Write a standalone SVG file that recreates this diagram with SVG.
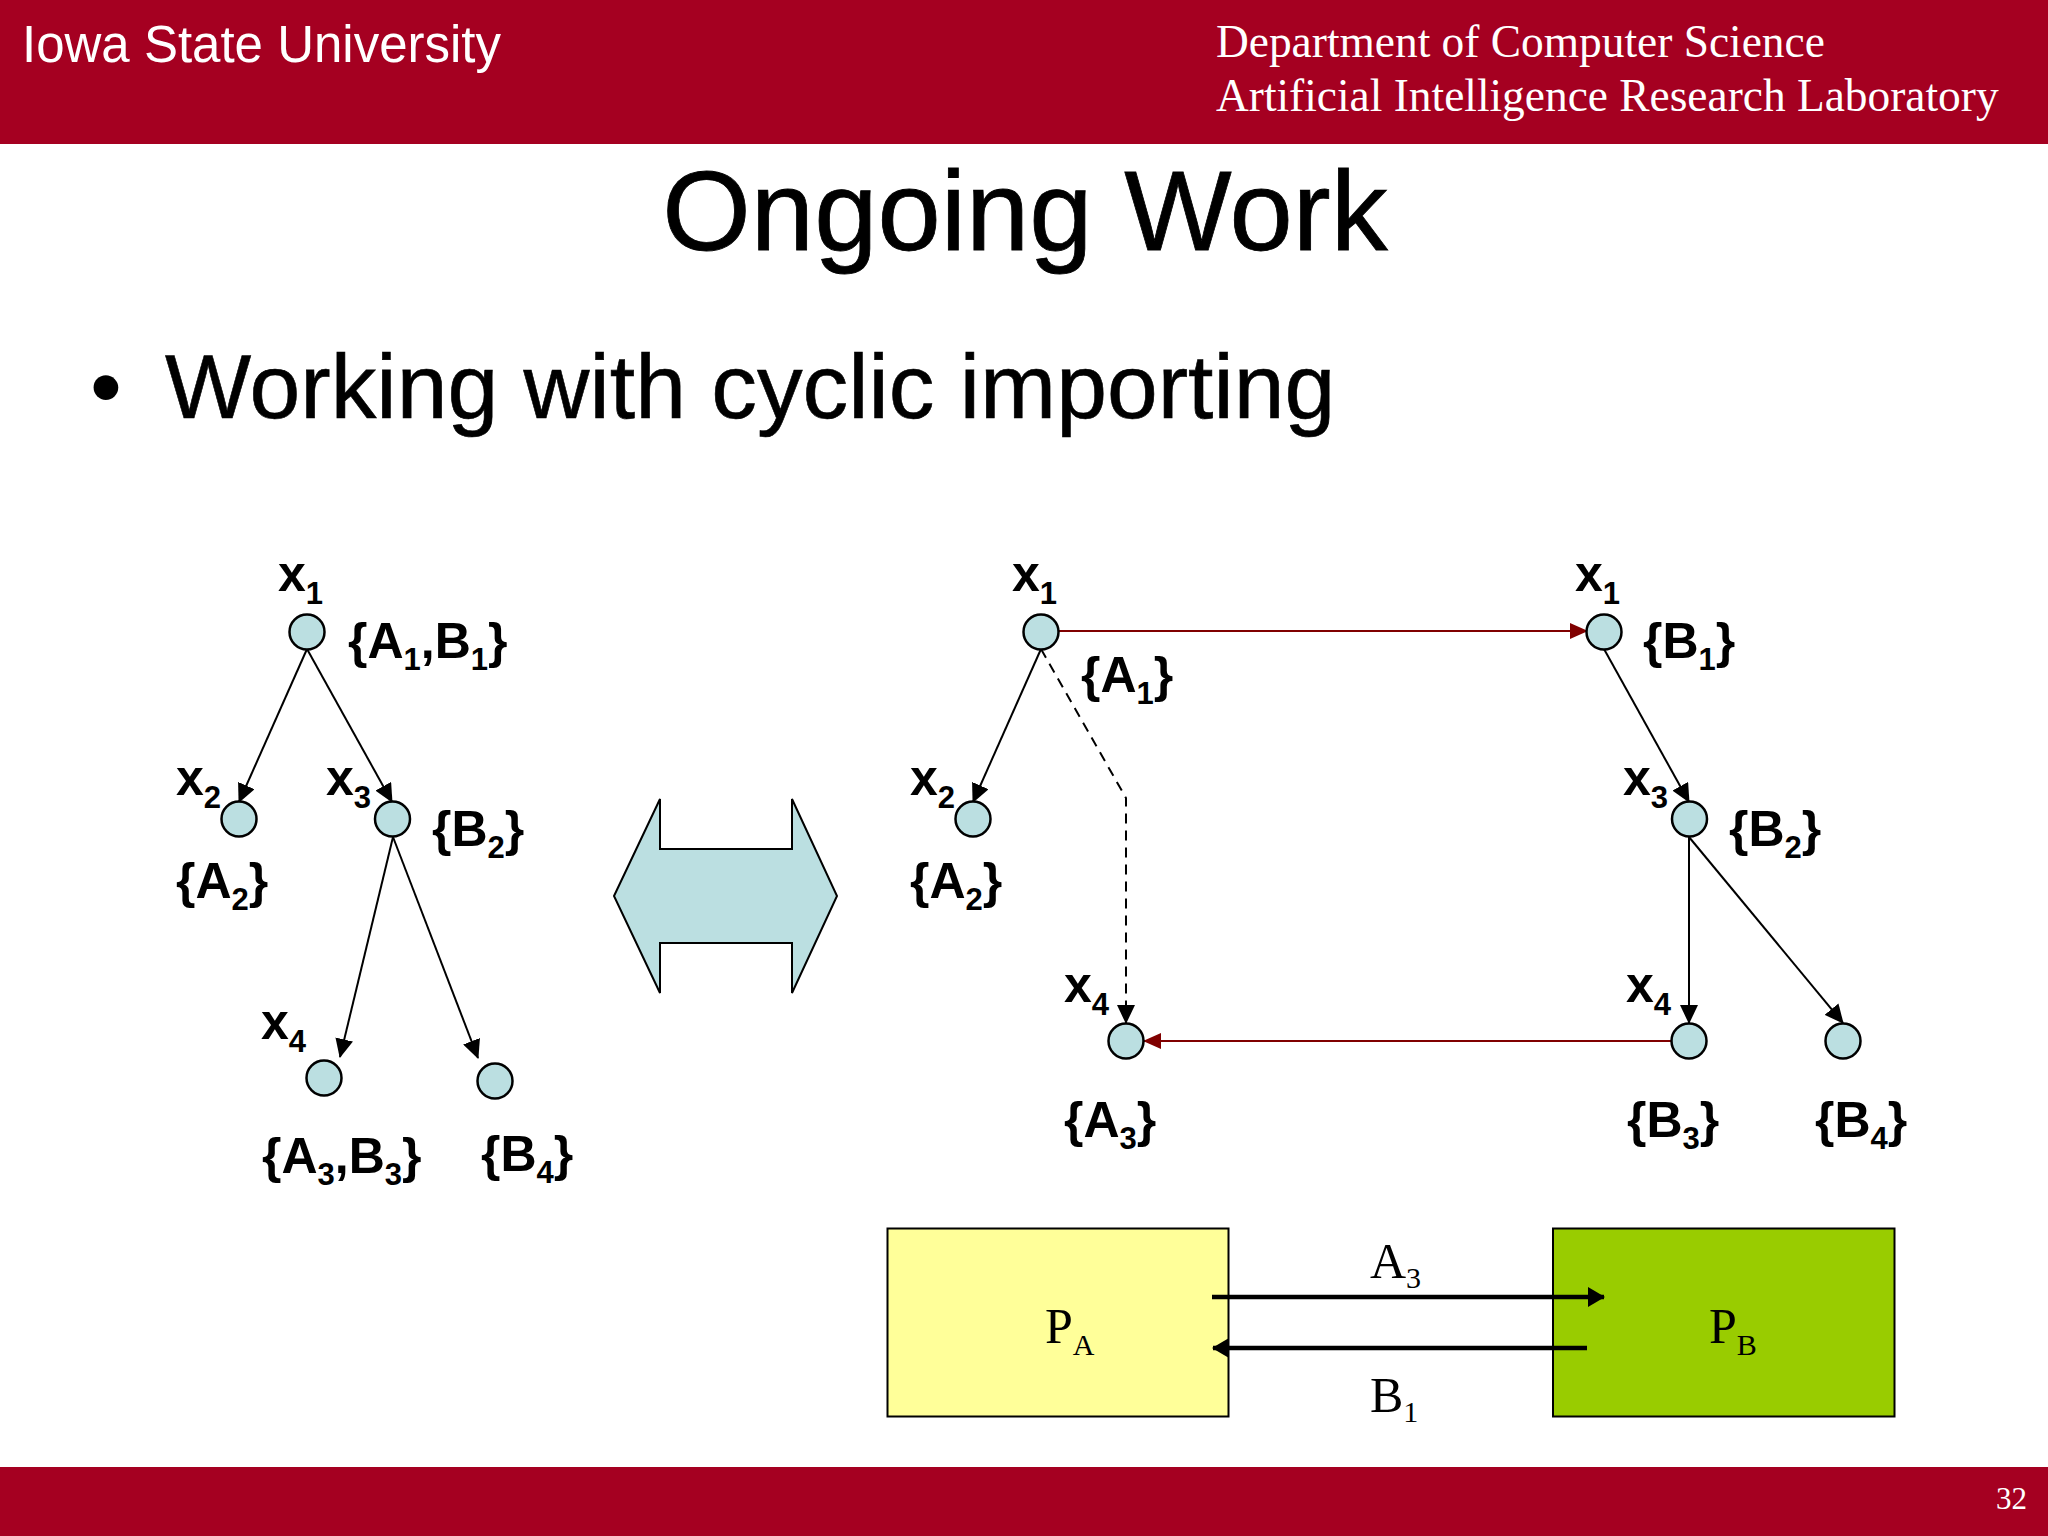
<svg xmlns="http://www.w3.org/2000/svg" width="2048" height="1536" viewBox="0 0 2048 1536">
<style>
text{fill:#000}
.sans{font-family:"Liberation Sans",Arial,sans-serif}
.serif{font-family:"Liberation Serif","Times New Roman",serif}
.l{font-family:"Liberation Sans",Arial,sans-serif;font-weight:bold;font-size:50px}
.s{font-size:31px;font-weight:bold}
.n{fill:#BBDFE1;stroke:#000;stroke-width:2.5}
.e{fill:none;stroke:#000;stroke-width:2}
.d{fill:none;stroke:#000;stroke-width:2;stroke-dasharray:10 7}
.r{fill:none;stroke:#800000;stroke-width:2}
.t{fill:none;stroke:#000;stroke-width:4.500}
.bx{font-family:"Liberation Serif","Times New Roman",serif;font-size:50px}
.bs{font-size:30px}
</style>
<defs>
<marker id="ah" markerUnits="userSpaceOnUse" markerWidth="19" markerHeight="18" refX="18" refY="9" orient="auto"><path d="M0 0L19 9L0 18z" fill="#000"/></marker>
<marker id="ar" markerUnits="userSpaceOnUse" markerWidth="18" markerHeight="16" refX="17" refY="8" orient="auto"><path d="M0 0L18 8L0 16z" fill="#800000"/></marker>
<marker id="at" markerUnits="userSpaceOnUse" markerWidth="17" markerHeight="20" refX="16" refY="10" orient="auto"><path d="M0 0L17 10L0 20z" fill="#000"/></marker>
</defs>
<rect width="2048" height="1536" fill="#fff"/>
<rect width="2048" height="144" fill="#A50021"/>
<rect y="1467" width="2048" height="69" fill="#A50021"/>
<text x="22" y="62" class="sans" font-size="51" style="fill:#fff">Iowa State University</text>
<text x="1216" y="57" class="serif" font-size="45.400" style="fill:#fff">Department of Computer Science</text>
<text x="1216" y="111" class="serif" font-size="45.400" style="fill:#fff">Artificial Intelligence Research Laboratory</text>
<text x="2027" y="1509" class="serif" font-size="31" text-anchor="end" style="fill:#fff">32</text>
<text x="1025" y="250" class="sans" font-size="113.800" text-anchor="middle" stroke="#000" stroke-width="0.8">Ongoing Work</text>
<text x="90" y="418" class="sans" font-size="91">•</text>
<text x="165" y="418" class="sans" font-size="91.300" stroke="#000" stroke-width="0.6">Working with cyclic importing</text>

<polygon id="double-arrow" points="614,896 660,799 660,849 792,849 792,799 837,896 792,993 792,943 660,943 660,993" fill="#BBDFE1" stroke="#000" stroke-width="2"/>

<g id="connectors">
<line class="e" x1="307" y1="649" x2="239" y2="802" marker-end="url(#ah)"/>
<line class="e" x1="307" y1="649" x2="392" y2="802" marker-end="url(#ah)"/>
<line class="e" x1="393" y1="837" x2="340" y2="1057" marker-end="url(#ah)"/>
<line class="e" x1="393" y1="837" x2="478" y2="1058" marker-end="url(#ah)"/>
<line class="e" x1="1041" y1="649" x2="973" y2="802" marker-end="url(#ah)"/>
<path class="d" d="M1041 649L1126 798V1023" marker-end="url(#ah)"/>
<line class="r" x1="1058" y1="631" x2="1587" y2="631" marker-end="url(#ar)"/>
<line class="e" x1="1604" y1="649" x2="1689" y2="802" marker-end="url(#ah)"/>
<line class="e" x1="1689" y1="837" x2="1689" y2="1023" marker-end="url(#ah)"/>
<line class="e" x1="1689" y1="837" x2="1843" y2="1023" marker-end="url(#ah)"/>
<line class="r" x1="1672" y1="1041" x2="1144" y2="1041" marker-end="url(#ar)"/>
</g>

<g id="left-x1"><circle class="n" cx="307" cy="632" r="17.500"/><text class="l" x="278" y="591">x<tspan class="s" dy="13">1</tspan></text><text class="l" x="348" y="658">{A<tspan class="s" dy="12">1</tspan><tspan dy="-12">,B</tspan><tspan class="s" dy="12">1</tspan><tspan dy="-12">}</tspan></text></g>
<g id="left-x2"><circle class="n" cx="239" cy="819" r="17.500"/><text class="l" x="176" y="795">x<tspan class="s" dy="13">2</tspan></text><text class="l" x="176" y="898">{A<tspan class="s" dy="12">2</tspan><tspan dy="-12">}</tspan></text></g>
<g id="left-x3"><circle class="n" cx="392.500" cy="819" r="17.500"/><text class="l" x="326" y="795">x<tspan class="s" dy="13">3</tspan></text><text class="l" x="432" y="846">{B<tspan class="s" dy="12">2</tspan><tspan dy="-12">}</tspan></text></g>
<g id="left-x4"><circle class="n" cx="324" cy="1078" r="17.500"/><text class="l" x="261" y="1039">x<tspan class="s" dy="13">4</tspan></text><text class="l" x="262" y="1173">{A<tspan class="s" dy="12">3</tspan><tspan dy="-12">,B</tspan><tspan class="s" dy="12">3</tspan><tspan dy="-12">}</tspan></text></g>
<g id="left-b4"><circle class="n" cx="495" cy="1081" r="17.500"/><text class="l" x="481" y="1171">{B<tspan class="s" dy="12">4</tspan><tspan dy="-12">}</tspan></text></g>

<g id="right-x1"><circle class="n" cx="1041" cy="632" r="17.500"/><text class="l" x="1012" y="591">x<tspan class="s" dy="13">1</tspan></text><text class="l" x="1081" y="692">{A<tspan class="s" dy="12">1</tspan><tspan dy="-12">}</tspan></text></g>
<g id="right-x2"><circle class="n" cx="973" cy="819" r="17.500"/><text class="l" x="910" y="795">x<tspan class="s" dy="13">2</tspan></text><text class="l" x="910" y="898">{A<tspan class="s" dy="12">2</tspan><tspan dy="-12">}</tspan></text></g>
<g id="right-a3"><circle class="n" cx="1126" cy="1041" r="17.500"/><text class="l" x="1064" y="1002">x<tspan class="s" dy="13">4</tspan></text><text class="l" x="1064" y="1137">{A<tspan class="s" dy="12">3</tspan><tspan dy="-12">}</tspan></text></g>
<g id="right-b1"><circle class="n" cx="1604" cy="632" r="17.500"/><text class="l" x="1575" y="591">x<tspan class="s" dy="13">1</tspan></text><text class="l" x="1643" y="658">{B<tspan class="s" dy="12">1</tspan><tspan dy="-12">}</tspan></text></g>
<g id="right-x3"><circle class="n" cx="1689.500" cy="819" r="17.500"/><text class="l" x="1623" y="795">x<tspan class="s" dy="13">3</tspan></text><text class="l" x="1729" y="846">{B<tspan class="s" dy="12">2</tspan><tspan dy="-12">}</tspan></text></g>
<g id="right-x4"><circle class="n" cx="1689" cy="1041" r="17.500"/><text class="l" x="1626" y="1002">x<tspan class="s" dy="13">4</tspan></text><text class="l" x="1627" y="1137">{B<tspan class="s" dy="12">3</tspan><tspan dy="-12">}</tspan></text></g>
<g id="right-b4"><circle class="n" cx="1843" cy="1041" r="17.500"/><text class="l" x="1815" y="1137">{B<tspan class="s" dy="12">4</tspan><tspan dy="-12">}</tspan></text></g>

<g id="pa"><rect x="887.500" y="1228.500" width="341" height="188" fill="#FFFF99" stroke="#000" stroke-width="2"/><text class="bx" x="1045" y="1343">P<tspan class="bs" dy="12">A</tspan></text></g>
<g id="pb"><rect x="1553" y="1228.500" width="341.500" height="188" fill="#99CC00" stroke="#000" stroke-width="2"/><text class="bx" x="1709" y="1343">P<tspan class="bs" dy="12">B</tspan></text></g>
<g id="import-connectors">
<line class="t" x1="1212" y1="1297" x2="1604" y2="1297" marker-end="url(#at)"/>
<line class="t" x1="1587" y1="1348" x2="1213" y2="1348" marker-end="url(#at)"/>
</g>
<text class="bx" x="1370" y="1278">A<tspan class="bs" dy="10">3</tspan></text>
<text class="bx" x="1370" y="1412">B<tspan class="bs" dy="10">1</tspan></text>
</svg>
